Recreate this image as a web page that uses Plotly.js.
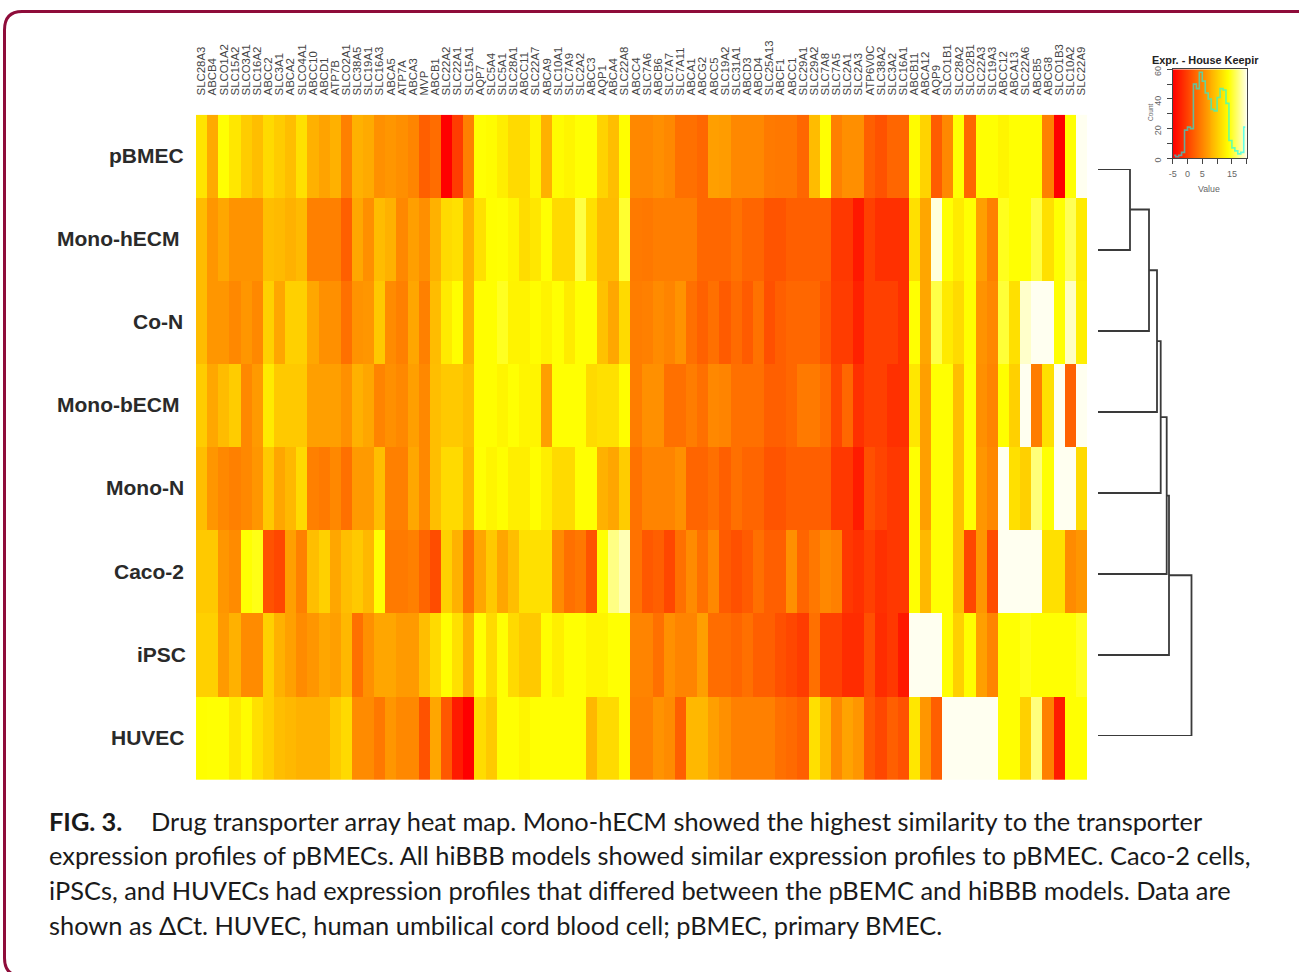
<!DOCTYPE html>
<html>
<head>
<meta charset="utf-8">
<script src="https://cdn.plot.ly/plotly-3.0.1.min.js"></script>
<style>html,body{margin:0;padding:0;background:#fff}#chart{width:1299px;height:972px}</style>
</head>
<body>
<div id="chart"></div>
<script>
const transporters = ["SLC28A3","ABCB4","SLCO1A2","SLC15A2","SLCO3A1","SLC16A2","ABCC2","SLC3A1","ABCA2","SLCO4A1","ABCC10","ABCD1","ATP7B","SLCO2A1","SLC38A5","SLC19A1","SLC16A3","ABCA5","ATP7A","ABCA3","MVP","ABCB1","SLC22A2","SLC22A1","SLC15A1","AQP7","SLC5A4","SLC5A1","SLC28A1","ABCC11","SLC22A7","ABCA9","SLC10A1","SLC7A9","SLC2A2","ABCC3","AQP1","ABCA4","SLC22A8","ABCC4","SLC7A6","ABCB6","SLC7A7","SLC7A11","ABCA1","ABCG2","ABCC5","SLC19A2","SLC31A1","ABCD3","ABCD4","SLC25A13","ABCF1","ABCC1","SLC29A1","SLC29A2","SLC7A8","SLC7A5","SLC2A1","SLC2A3","ATP6V0C","SLC38A2","SLC3A2","SLC16A1","ABCB11","ABCA12","AQP9","SLCO1B1","SLC28A2","SLCO2B1","SLC22A3","SLC19A3","ABCC12","ABCA13","SLC22A6","ABCB5","ABCG8","SLCO1B3","SLC10A2","SLC22A9"];
const models = ["pBMEC","Mono-hECM","Co-N","Mono-bECM","Mono-N","Caco-2","iPSC","HUVEC"];

const pBMEC = [11.8,7.5,13.8,12,10,9,11,10,9,11.5,8,7,8,4.4,8,7.5,5.6,6,5.5,4.8,2,3,-5,-0.5,4.4,13.8,13.5,12.5,11,11,13,8,13.5,13,13.8,13.8,10.5,9,13.7,5,
  5,5.5,5,3.2,3.2,2.6,6.7,6.5,5,5,5,4,3.8,3.8,2.6,8.8,13.8,4.4,5.5,5.5,2,1,2.5,2.5,13.5,10.5,1.8,5,13.8,2.4,13.8,13.8,13,13.8,13.8,13.8,4.4,-5,13.8,20];
const monoHECM = [8.8,6,7.3,5.8,5.8,5.8,9,8.7,8,8.7,4.4,4.4,4.4,2,7.3,5.5,8.8,8,5,6.7,5.5,8,11,11.5,8,11.5,13.7,13.8,13,11.2,12,13.8,11,11,15.5,11.5,8.8,8.8,15,4,
  3.8,4.3,4.3,4.3,4.3,2.6,2.6,2.6,3.4,2.4,2.4,1.2,1.2,2,2,2,2,-0.9,-0.9,-3.2,-0.3,-1.5,-1.5,-1.5,11.5,7.2,19.5,13.8,12.3,13.8,6.7,4.4,14.5,13.8,13.8,15.5,11.5,13.8,16,12.3];
const coN = [8.8,6,6,5,6,5,10.3,7.2,10.3,10.3,7.3,5.6,5.6,3.2,5.8,6,9.7,5.2,4.4,7.2,4.4,8.8,12.2,13.7,8,13.7,13.7,14.6,12.9,12.9,13.6,12.9,13.8,12.3,13.8,13.8,9.2,7.3,11,4.2,
  4.4,5.2,4.7,5.8,3.2,2.1,3.2,1.7,2.9,1.7,3.4,0.9,2,2.6,2.6,2.6,1.3,-0.6,-0.6,-2.6,-0.3,-0.3,-0.3,-1.5,13.8,7.2,15.6,12.2,11,13.7,5.8,5,15.2,11.5,19,20,20,13.8,18.8,12.6];
const monoBECM = [10,7.3,8.8,10,5,6.3,12.2,9.8,9.8,9.8,6.7,6.7,6.7,5.6,8,7.2,4.7,5.6,5,6.7,5,9,9.8,9.8,9,13.7,13.7,13,13.8,13,13,6.7,13.8,13.8,13.8,11,11.5,11.5,13.7,4.2,
  5.6,5.6,3.2,3.2,4.2,3.2,5,4.7,3.2,3.2,3.2,2,2,2.6,4,4,3,0.1,2.6,-1.5,-0.3,-0.3,-1.5,-1.5,12,6.7,13.8,13.8,9,13.8,5.6,4.7,13.7,10.3,20,4.2,11.5,20,2.2,20];
const monoN = [9,6,5,4.4,5,6,9.8,7.2,8.5,11,4.4,4,5,3.2,6.3,6.3,9,4.4,4.4,7.3,5,9,11,11,8.5,13.8,13,13.7,12.5,12.5,13.7,12.5,11,11,13.8,13.8,8,7.2,10,3.4,
  4.7,4.7,4.7,5.6,2.4,2.4,3.2,2,3.2,2.4,2.4,1.2,1.2,2,2,2,2,-0.9,-0.9,-3,0.9,0,-0.9,-0.9,13.8,6.7,13.8,13.8,9,13.8,6,5,20,11.5,10.3,16.9,13.8,20,20,11];
const caco2 = [9.8,9.8,6,5.2,13.8,14.3,1,0.2,6.7,4.4,9,10.3,7.2,9,9.8,8.5,13.8,4,4,4.4,2.4,0.6,10.3,8,3.2,7.2,9.8,7.2,9,11.5,11.5,11.5,5.2,3.2,3.8,1.2,13.8,17.2,18.5,3.4,
  1.5,2,0.2,3.2,5.2,3.2,5,1.7,0.9,1.7,3.2,2,2,5.6,2.4,3.8,5,4.4,-0.9,-1.5,-0.3,-1.5,-0.9,-0.9,13.8,8.5,13.8,13.8,9,0.2,6,0.6,20,20,20,20,11.5,11.5,5.2,6];
const iPSC = [10.3,10.3,6.3,8,5.2,5.2,10.3,8,6.8,5.2,6,7.2,6.7,8.5,3.2,5.6,7.2,7.2,6.3,6.3,9,11,13.7,11.5,8,13.8,11,13.8,11,9.8,9.8,13.7,12.6,13.8,13.8,13,13,13.8,13.8,4.7,
  4.7,3.2,5.6,4.7,4.7,6.7,3,3,2.4,3.2,2,2,0.9,0.2,-0.6,3.2,-0.3,-0.3,-1.8,-1.8,0.9,-1.8,-0.9,-3.2,20,20,20,13.8,10.3,13.7,6.7,4.7,13.8,13.8,14.4,13.8,13.8,13.8,13.8,14.6];
const HUVEC = [13.7,13.8,13.8,12.2,13.5,11.5,10.3,9,8.5,8,8,8,9.8,11,5.2,5.2,3.8,6,5,5,1,7.2,1.5,-3,-5,11.2,9.8,13.8,13.8,13,13.8,13.8,13.8,13.8,13.8,8.5,11,11,13.8,4.4,
  4.4,5.8,5.2,2,8.5,8.5,6.7,5.6,4.4,4.4,4.4,4.4,3.2,2.8,2,11.5,8.8,5,7,6,1.5,0.2,2,1,12,6,2,20,20,20,20,20,13.8,13.8,10.3,17,4.4,-3,13.8,13.8];

// Row dendrogram: merge heights, in order of merging down the rows
const mergeHeights = [32,51,59,62.7,68.7,71,93.5];

// Colour key histogram
const keyBinCentres = [-4.5,-3.5,-2.5,-1.5,-0.5,0.5,1.5,2.5,3.5,4.5,5.5,6.5,7.5,8.5,9.5,10.5,11.5,12.5,13.5,14.5,15.5,16.5,17.5,18.5,19.5];
const keyCounts = [2,1,2,4,19,21,20,50,47,58,52,44,40,33,32,41,47,46,37,12,7,5,3,4,21];
const keyRamp = [-5,-4,-3,-2,-1,0,1,2,3,4,5,6,7,8,9,10,11,12,13,14,15,16,17,18,19,20];

const captionBold = "FIG. 3.";
const captionLines = [
  "Drug transporter array heat map. Mono-hECM showed the highest similarity to the transporter",
  "expression profiles of pBMECs. All hiBBB models showed similar expression profiles to pBMEC. Caco-2 cells,",
  "iPSCs, and HUVECs had expression profiles that differed between the pBEMC and hiBBB models. Data are",
  "shown as \u0394Ct. HUVEC, human umbilical cord blood cell; pBMEC, primary BMEC."
];

const W = 1299, H = 972;
const px = v => v / W;
const py = v => 1 - v / H;
const heat = [[0,"#FF0000"],[0.75,"#FFFF00"],[1,"#FFFFF0"]];
const sans = "Liberation Sans, Arial, sans-serif";
const capFont = "Lato, sans-serif";

// Dendrogram built from the merge heights and the leaf order
const dendroX = [], dendroY = [];
let nodeY = 0, nodeH = 0;
mergeHeights.forEach((h, i) => {
  const leaf = i + 1;
  dendroX.push(nodeH, h, h, 0, null);
  dendroY.push(nodeY, nodeY, leaf, leaf, null);
  nodeY = (nodeY + leaf) / 2;
  nodeH = h;
});

const traces = [
  {type:"heatmap", x:transporters, y:models,
   z:[pBMEC,monoHECM,coN,monoBECM,monoN,caco2,iPSC,HUVEC],
   colorscale:heat, zmin:-5, zmax:20, showscale:false, xgap:0, ygap:0, hoverongaps:false},
  {type:"scatter", mode:"lines", xaxis:"x2", yaxis:"y2", x:dendroX, y:dendroY,
   line:{color:"#3a3a3a", width:1.8}, connectgaps:false, showlegend:false},
  {type:"heatmap", xaxis:"x3", yaxis:"y3", x:keyRamp, y:[0,60], z:[keyRamp,keyRamp],
   colorscale:heat, zmin:-5, zmax:20, showscale:false, zsmooth:"best"},
  {type:"scatter", mode:"lines", xaxis:"x3", yaxis:"y3", x:keyBinCentres, y:keyCounts,
   line:{color:"rgba(0,255,255,0.6)", width:1.6, shape:"hvh"}, showlegend:false}
];

const rowShift = [-10,-15,-11,-15,-10,-10,-8,-9];
const annotations = models.map((m, i) => ({
  xref:"x", yref:"y", x:-0.5, y:m, text:m, showarrow:false, xanchor:"right", yanchor:"middle",
  xshift:rowShift[i], yshift:1, font:{family:sans, size:21, color:"#2a2a2a", weight:700}
}));
const capY = [821,855,890,925];
captionLines.forEach((t, i) => annotations.push({
  xref:"paper", yref:"paper", x:px(i === 0 ? 149 : 46.5), y:py(capY[i]), text:t, showarrow:false,
  xanchor:"left", yanchor:"middle", align:"left", font:{family:capFont, size:25.4, color:"#1a1a1a"}
}));
annotations.push({xref:"paper", yref:"paper", x:px(46.5), y:py(capY[0]), text:"<b>"+captionBold+"</b>", showarrow:false,
  xanchor:"left", yanchor:"middle", font:{family:capFont, size:25.4, color:"#1a1a1a"}});
annotations.push({xref:"paper", yref:"paper", x:px(1205), y:py(59.5), text:"<b>Expr. - House Keepir</b>", showarrow:false,
  xanchor:"center", yanchor:"middle", font:{family:sans, size:10.9, color:"#222"}});
annotations.push({xref:"paper", yref:"paper", x:px(1209), y:py(189), text:"Value", showarrow:false,
  xanchor:"center", yanchor:"middle", font:{family:sans, size:8.8, color:"#666"}});
annotations.push({xref:"paper", yref:"paper", x:px(1150), y:py(112), text:"Count", showarrow:false, textangle:-90,
  xanchor:"center", yanchor:"middle", font:{family:sans, size:6.5, color:"#666"}});

const frame = `M ${px(1320)} ${py(11.5)} L ${px(22)} ${py(11.5)} Q ${px(4.5)} ${py(11.5)} ${px(4.5)} ${py(30)} L ${px(4.5)} ${py(958)} Q ${px(4.5)} ${py(976)} ${px(22)} ${py(976)}`;

const layout = {
  width:W, height:H, autosize:false, showlegend:false, paper_bgcolor:"#fff", plot_bgcolor:"#fff",
  margin:{l:0,r:0,t:0,b:0}, hovermode:false,
  xaxis:{domain:[px(196),px(1087)], side:"top", anchor:"y", type:"category", range:[-0.5,79.5],
    tickmode:"array", tickvals:transporters, ticktext:transporters, tickangle:-90, ticks:"outside", ticklen:16, tickwidth:0,
    tickcolor:"rgba(0,0,0,0)", tickfont:{family:sans, size:11.4, color:"#444"}, showgrid:false, zeroline:false, showline:false, automargin:false},
  yaxis:{domain:[py(780),py(114.7)], anchor:"x", type:"category", range:[7.5,-0.5], showticklabels:false, ticks:"",
    showgrid:false, zeroline:false, showline:false, automargin:false},
  xaxis2:{domain:[px(1098),px(1195)], range:[0,97], anchor:"y2", visible:false},
  yaxis2:{domain:[py(736),py(169)], range:[7,0], anchor:"x2", visible:false},
  xaxis3:{domain:[px(1172.7),px(1246.7)], range:[-5,20], anchor:"y3", tickmode:"array",
    tickvals:[-5,0,5,10,15,20], ticktext:["-5","0","5","","15",""], ticks:"outside", ticklen:5, tickcolor:"#444", tickwidth:1,
    ticklabelstandoff:2, tickangle:0, tickfont:{family:sans, size:9, color:"#666"}, showgrid:false, zeroline:false, showline:true, linecolor:"#444", linewidth:1, mirror:true, automargin:false},
  yaxis3:{domain:[py(158.3),py(69.3)], range:[0,60], anchor:"x3", tickmode:"array",
    tickvals:[0,10,20,30,40,50,60], ticktext:["0","","20","","40","","60"], ticks:"outside", ticklen:5, tickcolor:"#444", tickwidth:1,
    ticklabelstandoff:2, ticklabelshift:3, tickangle:-90, tickfont:{family:sans, size:9, color:"#666"}, showgrid:false, zeroline:false, showline:true, linecolor:"#444", linewidth:1, mirror:true, automargin:false},
  shapes:[{type:"path", xref:"paper", yref:"paper", path:frame, line:{color:"#8e0c3a", width:3}, fillcolor:"rgba(0,0,0,0)", layer:"below"}],
  annotations:annotations
};
Plotly.newPlot("chart", traces, layout, {staticPlot:true, displayModeBar:false});
</script>
</body>
</html>
